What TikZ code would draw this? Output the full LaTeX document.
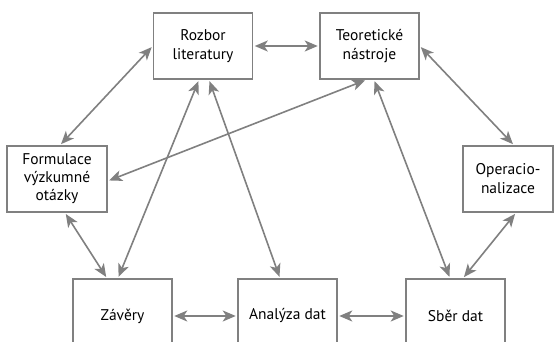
\documentclass[tikz,border=0pt]{standalone}
\usepackage{fontspec}
\setmainfont{PT Sans}
\usetikzlibrary{arrows.meta,calc}
\definecolor{ln}{HTML}{808080}
\tikzset{
  box/.style={draw=ln, line width=1.5pt, fill=white, rectangle, inner sep=0pt,
    align=center, font=\fontsize{15.5}{19}\selectfont, text=black},
  conn/.style={draw=ln, line width=1.6pt, shorten <=1.5pt, shorten >=1.5pt,
    {Stealth[length=13pt,width=11pt,inset=3.5pt]}-{Stealth[length=13pt,width=11pt,inset=3.5pt]}},
}
\begin{document}
\begin{tikzpicture}[x=1pt,y=-1pt]
\fill[white] (0,0) rectangle (554,342);
\useasboundingbox (0,0) rectangle (554,342);
\clip (0,0) rectangle (554,342);
\node[box, minimum width=99pt, minimum height=66pt] (rozbor) at (203,46) {Rozbor\\literatury};
\node[box, minimum width=99pt, minimum height=66pt] (teor) at (369.5,46) {Teoretické\\nástroje};
\node[box, minimum width=100pt, minimum height=66pt, font=\fontsize{15.5}{18}\selectfont] (form) at (57,179) {Formulace\\výzkumné\\otázky};
\node[box, minimum width=90pt, minimum height=66pt] (oper) at (508,179) {Operacio-\\nalizace};
\node[box, minimum width=99pt, minimum height=74pt] (zavery) at (122.5,316) {Závěry};
\node[box, minimum width=99pt, minimum height=74pt] (analyza) at (287.5,316) {Analýza dat};
\node[box, minimum width=99pt, minimum height=74pt] (sber) at (455.5,316) {Sběr dat};

\draw[conn] (rozbor.east) -- (teor.west);
\draw[conn] (rozbor.west) -- ($(form.north)+(3,0)$);
\draw[conn] ($(rozbor.south)+(-4,0)$) -- ($(zavery.north)+(-4.5,0)$);
\draw[conn] ($(rozbor.south)+(6,0)$) -- ($(analyza.north)+(-7.5,0)$);
\draw[conn] ($(teor.south)+(-3,0)$) -- ($(form.east)+(0,2)$);
\draw[conn] (teor.east) -- ($(oper.north)+(6,0)$);
\draw[conn] ($(teor.south)+(4.5,0)$) -- ($(sber.north)+(-5.5,0)$);
\draw[conn] ($(form.south)+(8,0)$) -- ($(zavery.north)+(-15.5,0)$);
\draw[conn] ($(oper.south)+(8,0)$) -- ($(sber.north)+(7.5,0)$);
\draw[conn] (zavery.east) -- (analyza.west);
\draw[conn] (analyza.east) -- (sber.west);
\end{tikzpicture}
\end{document}
